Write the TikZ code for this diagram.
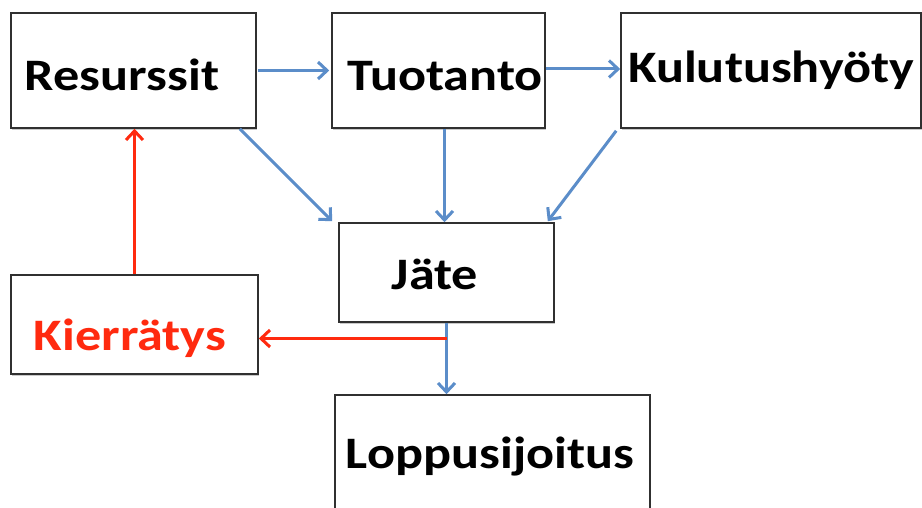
\documentclass[tikz,border=0pt]{standalone}
\usepackage{graphicx}
\usepackage{fontspec}
\setmainfont{Carlito}
\usetikzlibrary{arrows.meta,shadows,calc}
\definecolor{arrblue}{HTML}{5B8DC9}
\definecolor{arrred}{HTML}{FF2A0F}
\definecolor{boxline}{HTML}{303030}
\newcommand{\wide}[1]{\scalebox{1.16}[1]{#1}}
\tikzset{
  box/.style={draw=boxline, line width=1.6pt, fill=white, rectangle, inner sep=0pt,
    drop shadow={shadow xshift=1pt, shadow yshift=-2pt, opacity=0.35, fill=black!60}},
  lbl/.style={anchor=base, inner sep=0pt, font=\fontsize{45}{50}\selectfont\bfseries},
  bluearr/.style={draw=arrblue, line width=3pt, -{Straight Barb[length=9pt,width=17pt,line width=3pt]}},
  redarr/.style={draw=arrred, line width=3pt, -{Straight Barb[length=9pt,width=17pt,line width=3pt]}}
}
\begin{document}
\begin{tikzpicture}[x=1pt,y=-1pt]
\useasboundingbox (0,0) rectangle (922,508);
\fill[white] (0,0) rectangle (922,508);
% boxes
\node[box, minimum width=245pt, minimum height=115pt] (res) at (133.5,70.5) {};
\node[box, minimum width=213pt, minimum height=115pt] (tuo) at (438.5,70.5) {};
\node[box, minimum width=300pt, minimum height=115pt] (kul) at (771,70.5) {};
\node[box, minimum width=215pt, minimum height=99pt] (jate) at (446.5,272.5) {};
\node[box, minimum width=247pt, minimum height=99pt] (kie) at (134.5,324.5) {};
\node[box, minimum width=315pt, minimum height=130pt] (lop) at (492.5,460) {};
% labels
\node[lbl] (tres) at (122,91) {\wide{Resurssit}};
\node[lbl] (ttuo) at (445,91) {\wide{Tuotanto}};
\node[lbl] (tkul) at (771,83) {\wide{Kulutushyöty}};
\node[lbl] (tjate) at (435,289) {\wide{Jäte}};
\node[lbl, text=arrred] (tkie) at (130,350) {\wide{Kierrätys}};
\node[lbl] (tlop) at (490,468) {\wide{Loppusijoitus}};
% connectors
\draw[bluearr] ([xshift=1pt]res.east) -- ([xshift=-2pt]tuo.west);
\draw[bluearr] ([yshift=1.5pt]tuo.east) -- ([yshift=1.5pt]kul.west);
\draw[bluearr] ([xshift=-17pt]res.south east) -- ([xshift=-6pt,yshift=1pt]jate.north west);
\draw[bluearr] ([xshift=-2pt]jate.north |- tuo.south) -- ([xshift=-2pt]jate.north);
\draw[bluearr] ([xshift=-4pt,yshift=-2pt]kul.south west) -- ([xshift=-7pt,yshift=1pt]jate.north east);
\draw[bluearr] (jate.south) -- (jate.south |- lop.north);
\coordinate (split) at ($(jate.south)!0.22!(jate.south |- lop.north)$);
\draw[redarr] (split) -- (split -| kie.east);
\draw[redarr] (kie.north) -- (kie.north |- res.south);
\end{tikzpicture}
\end{document}
